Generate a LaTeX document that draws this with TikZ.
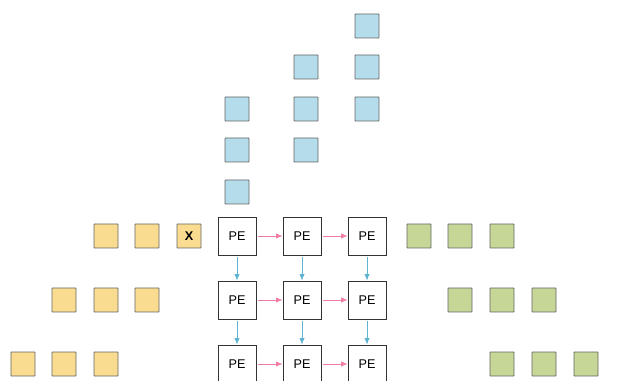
\documentclass[tikz,border=0pt]{standalone}
\usepackage{fontspec}
\setsansfont{Liberation Sans}
\usetikzlibrary{arrows.meta}

\definecolor{ylwfill}{RGB}{250,220,145}
\definecolor{bluefill}{RGB}{180,220,234}
\definecolor{grnfill}{RGB}{198,214,150}
\definecolor{flowpink}{RGB}{240,125,165}
\definecolor{flowblue}{RGB}{95,180,210}

\tikzset{
  pe/.style={draw=black!80, fill=white, line width=0.6pt, minimum size=9.5mm,
    inner sep=0pt, font=\sffamily\small},
  cell/.style={draw=black!60, line width=0.6pt, minimum size=6mm, inner sep=0pt,
    rounded corners=0.3pt, font=\sffamily\bfseries\small},
  ylw/.style={cell, fill=ylwfill},
  blu/.style={cell, fill=bluefill},
  grn/.style={cell, fill=grnfill},
  hflow/.style={draw=flowpink, line width=0.5pt, -{Latex[length=1.6mm,width=1.3mm]}, shorten <=1pt},
  vflow/.style={draw=flowblue, line width=0.5pt, -{Latex[length=1.6mm,width=1.3mm]}, shorten <=1pt}
}

\begin{document}
\begin{tikzpicture}[x=0.25mm,y=-0.25mm]
\clip (0,0) rectangle (634,381);

% processing elements
\foreach \r/\y in {1/236,2/300,3/364}
  \foreach \c/\x in {1/237,2/302,3/367}
    \node[pe] (pe\r\c) at (\x,\y) {PE};

% left inputs
\node[ylw] (a1) at (106,236) {};
\node[ylw] (a2) at (147,236) {};
\node[ylw] (a3) at (189,236) {X};
\node[ylw] (b1) at (64,300) {};
\node[ylw] (b2) at (106,300) {};
\node[ylw] (b3) at (147,300) {};
\node[ylw] (c1) at (23,364) {};
\node[ylw] (c2) at (64,364) {};
\node[ylw] (c3) at (106,364) {};

% top inputs
\foreach \i/\y in {1/109,2/150,3/192}
  \node[blu] (wa\i) at (237,\y) {};
\foreach \i/\y in {1/67,2/109,3/150}
  \node[blu] (wb\i) at (306,\y) {};
\foreach \i/\y in {1/26,2/67,3/109}
  \node[blu] (wc\i) at (367,\y) {};

% right outputs
\foreach \i/\x in {1/419,2/460,3/502}
  \node[grn] (oa\i) at (\x,236) {};
\foreach \i/\x in {1/460,2/502,3/544}
  \node[grn] (ob\i) at (\x,300) {};
\foreach \i/\x in {1/502,2/544,3/586}
  \node[grn] (oc\i) at (\x,364) {};

% data flow
\foreach \r in {1,2,3}{
  \draw[hflow] (pe\r1) -- (pe\r2);
  \draw[hflow] (pe\r2) -- (pe\r3);
}
\foreach \c in {1,2,3}{
  \draw[vflow] (pe1\c) -- (pe2\c);
  \draw[vflow] (pe2\c) -- (pe3\c);
}
\end{tikzpicture}
\end{document}
